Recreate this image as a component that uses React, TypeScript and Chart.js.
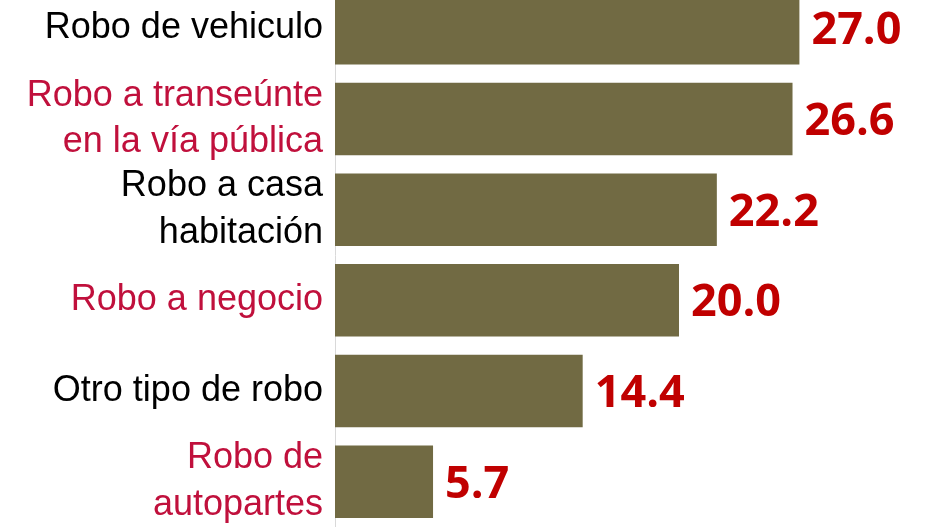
import React, { useEffect, useRef } from "react";
import { Chart, registerables } from "chart.js";

Chart.register(...registerables);

const categories: string[][] = [
  ["Robo de vehiculo"],
  ["Robo a transeúnte", "en la vía pública"],
  ["Robo a casa", "habitación"],
  ["Robo a negocio"],
  ["Otro tipo de robo"],
  ["Robo de", "autopartes"],
];
const values: number[] = [27.0, 26.6, 22.2, 20.0, 14.4, 5.7];
const labelColors: string[] = ["#000000", "#C0103C", "#000000", "#C0103C", "#000000", "#C0103C"];

const valueLabelPlugin = {
  id: "valueLabels",
  afterDatasetsDraw(chart: any) {
    const ctx = chart.ctx;
    const meta = chart.getDatasetMeta(0);
    ctx.save();
    ctx.font = "bold 45px 'Open Sans'";
    ctx.fillStyle = "#C00000";
    ctx.textAlign = "left";
    ctx.textBaseline = "alphabetic";
    meta.data.forEach((bar: any, i: number) => {
      const v = values[i];
      ctx.fillText(v.toFixed(1), bar.x + 12, bar.y + 16);
    });
    ctx.restore();
  },
};

export default function App() {
  const ref = useRef<HTMLCanvasElement | null>(null);
  useEffect(() => {
    document.body.style.margin = "0";
    if (!ref.current) return;
    const chart = new Chart(ref.current, {
      type: "bar",
      data: {
        labels: categories as any,
        datasets: [
          {
            data: values,
            backgroundColor: "#716A43",
            borderWidth: 0,
            categoryPercentage: 0.8,
            barPercentage: 1.0,
          },
        ],
      },
      options: {
        indexAxis: "y",
        animation: false,
        responsive: false,
        maintainAspectRatio: false,
        layout: { padding: { left: 0, right: 79, top: 0, bottom: 0 } },
        plugins: {
          legend: { display: false },
          tooltip: { enabled: false },
        },
        scales: {
          x: {
            display: false,
            min: 0,
            max: 30,
          },
          y: {
            grid: { display: false, drawTicks: false },
            border: { display: true, color: "#D9D9D9", width: 1 },
            ticks: {
              autoSkip: false,
              padding: 12,
              color: (c: any) => labelColors[c.index] ?? "#000",
              font: { family: "'Liberation Sans', Arial, sans-serif", size: 36, lineHeight: 1.3 },
            },
            afterFit: (scale: any) => {
              scale.width = 335;
              scale.paddingTop = 0;
              scale.paddingBottom = 0;
            },
          },
        },
      },
      plugins: [valueLabelPlugin],
    });
    return () => chart.destroy();
  }, []);
  return (
    <div style={{ position: "relative", width: 930, height: 527, overflow: "hidden", background: "#fff" }}>
      <canvas
        ref={ref}
        width={930}
        height={544}
        style={{ position: "absolute", left: 0, top: -17, width: 930, height: 544 }}
      />
    </div>
  );
}
